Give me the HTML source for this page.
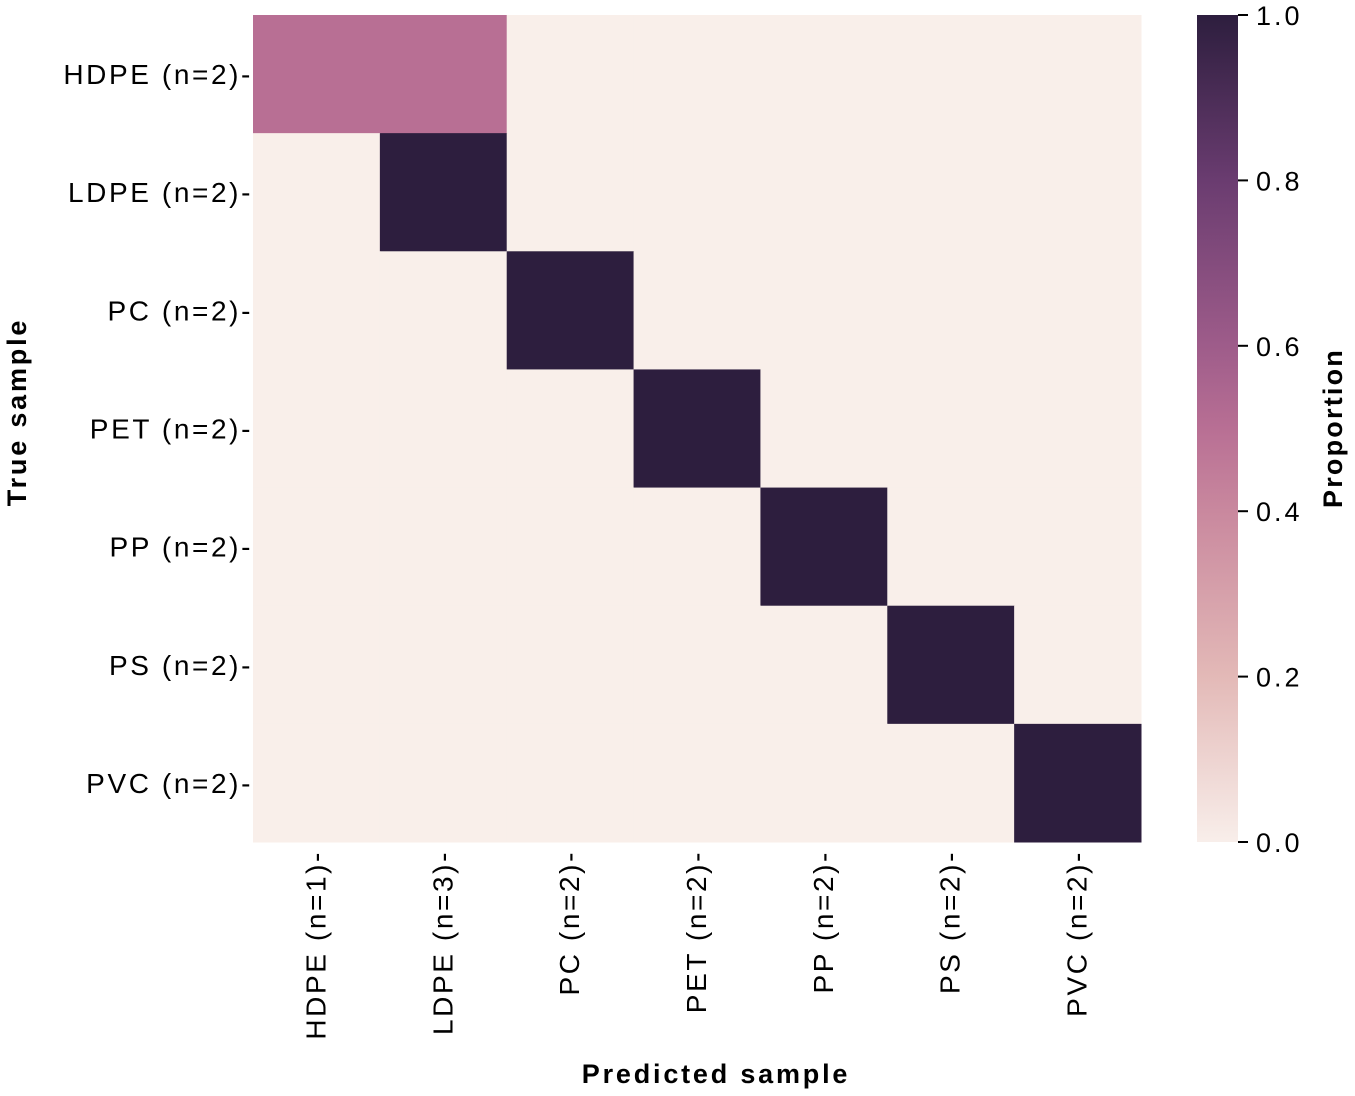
<!DOCTYPE html>
<html><head><meta charset="utf-8"><style>
body{margin:0;background:#fff;}
svg{display:block;font-family:"Liberation Sans",sans-serif;}
</style></head><body>
<svg id="chart" width="1355" height="1096" viewBox="0 0 1355 1096" xmlns="http://www.w3.org/2000/svg">
<defs>
<linearGradient id="cbgrad" x1="0" y1="1" x2="0" y2="0">
<stop offset="0" stop-color="#f8eeea"/><stop offset="0.2" stop-color="#e3b9b7"/><stop offset="0.4" stop-color="#c9889e"/><stop offset="0.5" stop-color="#b86f94"/><stop offset="0.6" stop-color="#9e5c8a"/><stop offset="0.8" stop-color="#6a3c70"/><stop offset="1" stop-color="#2d1e3e"/>
</linearGradient>
</defs>
<g id="cells"></g>
<g id="ylabels"></g>
<g id="xlabels"></g>
<text x="26" y="412" transform="rotate(-90 26 412)" text-anchor="middle" font-size="27" letter-spacing="2.8" font-weight="bold">True sample</text>
<text x="716" y="1083" text-anchor="middle" font-size="27" letter-spacing="2.8" font-weight="bold">Predicted sample</text>
<rect x="1197" y="15" width="41" height="827" fill="url(#cbgrad)"/>
<g id="cbticks"></g>
<text x="1342" y="428" transform="rotate(-90 1342 428)" text-anchor="middle" font-size="27" letter-spacing="2.2" font-weight="bold">Proportion</text>
</svg>
<script>
const rowLabels=["HDPE (n=2)","LDPE (n=2)","PC (n=2)","PET (n=2)","PP (n=2)","PS (n=2)","PVC (n=2)"];
const colLabels=["HDPE (n=1)","LDPE (n=3)","PC (n=2)","PET (n=2)","PP (n=2)","PS (n=2)","PVC (n=2)"];
const values=[
[0.5,0.5,0,0,0,0,0],
[0,1,0,0,0,0,0],
[0,0,1,0,0,0,0],
[0,0,0,1,0,0,0],
[0,0,0,0,1,0,0],
[0,0,0,0,0,1,0],
[0,0,0,0,0,0,1]];
const cbTicks=[0,0.2,0.4,0.6,0.8,1.0];
const NS="http://www.w3.org/2000/svg";
const X0=253,X1=1141,Y0=15,Y1=842;
const cw=(X1-X0)/colLabels.length, ch=(Y1-Y0)/rowLabels.length;
const xs=i=>X0+i*cw, ys=j=>Y0+j*ch, cby=v=>Y1-v*(Y1-Y0);
const stops=[[0,[249,239,234]],[0.2,[227,185,183]],[0.4,[201,136,158]],[0.5,[184,111,148]],[0.6,[158,92,138]],[0.8,[106,60,112]],[1,[45,30,62]]];
function cmap(v){for(let k=1;k<stops.length;k++){if(v<=stops[k][0]){const a=stops[k-1],b=stops[k],t=(v-a[0])/(b[0]-a[0]);return "rgb("+a[1].map((c,i)=>Math.round(c+(b[1][i]-c)*t)).join(",")+")";}}return "rgb(45,30,62)";}
function mk(tag,attrs,parent){const e=document.createElementNS(NS,tag);for(const k in attrs)e.setAttribute(k,attrs[k]);parent.appendChild(e);return e;}
const cells=document.getElementById('cells');
values.forEach((row,j)=>row.forEach((v,i)=>{
 const r=mk('rect',{x:xs(i),y:ys(j),width:cw+0.5,height:ch+0.5,fill:cmap(v)},cells);
 
 
}));
const yl=document.getElementById('ylabels');
rowLabels.forEach((l,j)=>{
 const t=mk('text',{x:X0,y:ys(j)+ch/2+10,'text-anchor':'end','font-size':28,'letter-spacing':2.6},yl);
 t.textContent=l+"-";
 
 
});
const xl=document.getElementById('xlabels');
colLabels.forEach((l,i)=>{
 const cx=xs(i)+cw/2+9, cy=850;
 const t=mk('text',{x:cx,y:cy,'text-anchor':'end','font-size':28,'letter-spacing':2.6,transform:'rotate(-90 '+cx+' '+cy+')'},xl);
 t.textContent=l+"-";
 
 
});
const cb=document.getElementById('cbticks');
cbTicks.forEach(v=>{
 const y=cby(v);
 const ln=mk('line',{x1:1238,x2:1248,y1:y,y2:y,stroke:'#000','stroke-width':2},cb);
 
 
 const t=mk('text',{x:1256,y:y+10,'font-size':27,'letter-spacing':3},cb);
 t.textContent=v.toFixed(1);
 
 
});
</script>
</body></html>
